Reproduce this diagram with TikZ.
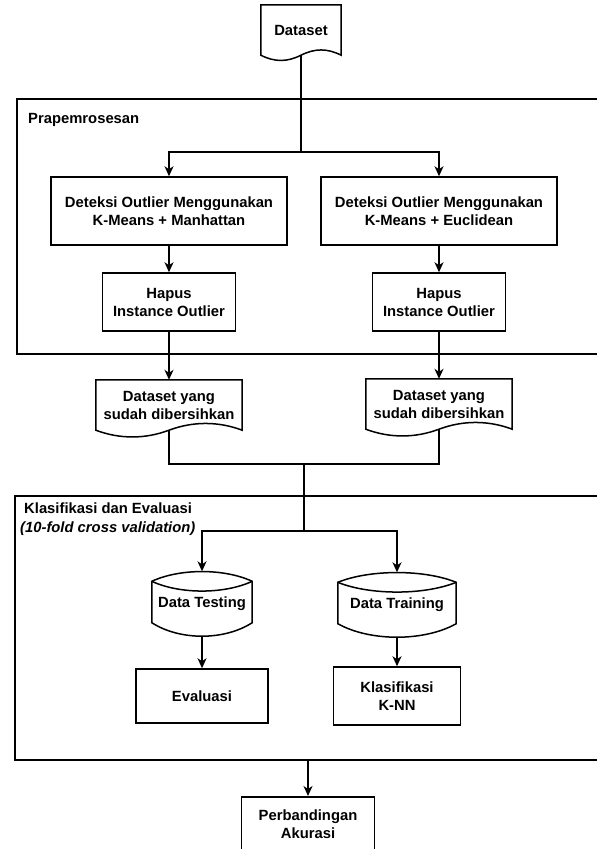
\documentclass[tikz,border=0pt]{standalone}
\usepackage{fontspec}
\setmainfont{Liberation Sans}
\usepackage{tikz}
\usetikzlibrary{arrows.meta}
\tikzset{
  proc/.style={rectangle, draw, line width=1.5pt, align=center, inner sep=0pt},
  doc/.style={rectangle, align=center, inner sep=0pt},
  store/.style={rectangle, align=center, inner sep=0pt},
  frame/.style={rectangle, draw, line width=1.5pt, inner sep=0pt, anchor=north west},
  lbl/.style={anchor=west, inner sep=0pt},
  line/.style={line width=1.5pt},
  arr/.style={line width=1.5pt, -{Stealth[length=10pt,width=9pt,inset=3pt]}},
  >=Stealth
}
% document outline with wavy bottom
\newcommand{\docline}[3]{%
  \draw[line] (#1.north west) -- (#1.north east) -- (#1.south east)
    .. controls +(-#2,#3) and +(#2,#3) .. (#1.south)
    .. controls +(-#2,-#3) and +(#2,-#3) .. (#1.south west) -- cycle;}
% stored data outline
\newcommand{\cylline}[2]{%
  \draw[line] ([yshift=-10pt]#1.north west)
    .. controls +(#2,13pt) and +(-#2,13pt) .. ([yshift=-10pt]#1.north east)
    -- ([yshift=14pt]#1.south east)
    .. controls +(-#2,-18pt) and +(#2,-18pt) .. ([yshift=14pt]#1.south west) -- cycle;
  \draw[line] ([yshift=-10pt]#1.north west)
    .. controls +(#2,-13pt) and +(-#2,-13pt) .. ([yshift=-10pt]#1.north east);}

\begin{document}
\begin{tikzpicture}[x=1pt, y=-1pt, every node/.style={font=\fontsize{14.8}{18}\selectfont\bfseries}]
  \useasboundingbox (0,0) rectangle (597,849);
  \clip (0,0) rectangle (597,849);
  % groups
  \node[frame, minimum width=600pt, minimum height=255pt] (prep) at (16,98) {};
  \node[frame, minimum width=600pt, minimum height=264pt] (klas) at (14,495) {};
  \node[lbl] (prepLbl) at (28,120) {Prapemrosesan};
  \node[lbl] (klasLbl) at (24,508) {Klasifikasi dan Evaluasi};
  \node[lbl, font=\fontsize{14.8}{18}\selectfont\bfseries\itshape] (cvLbl) at (20,529) {(10-fold cross validation)};
  % nodes
  \node[doc, minimum width=80pt, minimum height=50pt] (ds) at (301,30) {Dataset};
  \node[proc, minimum width=236pt, minimum height=68pt] (det1) at (169,211) {Deteksi Outlier Menggunakan\\K-Means + Manhattan};
  \node[proc, minimum width=236pt, minimum height=68pt] (det2) at (439,211) {Deteksi Outlier Menggunakan\\K-Means + Euclidean};
  \node[proc, minimum width=133pt, minimum height=58pt] (hap1) at (169,302) {Hapus\\Instance Outlier};
  \node[proc, minimum width=133pt, minimum height=58pt] (hap2) at (439,302) {Hapus\\Instance Outlier};
  \node[doc, minimum width=146pt, minimum height=50pt] (clean1) at (169,405) {Dataset yang\\sudah dibersihkan};
  \node[doc, minimum width=146pt, minimum height=50pt] (clean2) at (439,404) {Dataset yang\\sudah dibersihkan};
  \node[store, minimum width=100pt, minimum height=65pt] (test) at (202,604) {Data Testing};
  \node[store, minimum width=118pt, minimum height=65pt] (train) at (397,605) {Data Training};
  \node[proc, minimum width=132pt, minimum height=54pt] (eval) at (202,696) {Evaluasi};
  \node[proc, minimum width=127pt, minimum height=58pt] (knn) at (397,696) {Klasifikasi\\K-NN};
  \node[proc, minimum width=133pt, minimum height=54pt, anchor=north] (comp) at (308,796) {Perbandingan\\Akurasi};
  % shapes
  \docline{ds}{14pt}{7pt}
  \docline{clean1}{24pt}{9pt}
  \docline{clean2}{24pt}{9pt}
  \cylline{test}{28pt}
  \cylline{train}{32pt}
  % connectors
  \coordinate (split1) at (301,152);
  \coordinate (join1) at (304,464);
  \coordinate (split2) at (304,531);
  \coordinate (out) at (308,759);
  \draw[line] (ds.south) -- (split1);
  \draw[arr] (split1) -| (det1.north);
  \draw[arr] (split1) -| (det2.north);
  \draw[arr] (det1) -- (hap1);
  \draw[arr] (det2) -- (hap2);
  \draw[arr] (hap1) -- (clean1);
  \draw[arr] (hap2) -- (clean2);
  \draw[line] (clean1.south) |- (join1);
  \draw[line] (clean2.south) |- (join1);
  \draw[line] (join1) -- (split2);
  \draw[arr] (split2) -| (test.north);
  \draw[arr] (split2) -| (train.north);
  \draw[arr] (test.south) -- (eval);
  \draw[arr] (train.south) -- (knn);
  \draw[arr] (out) -- (comp);
\end{tikzpicture}
\end{document}
